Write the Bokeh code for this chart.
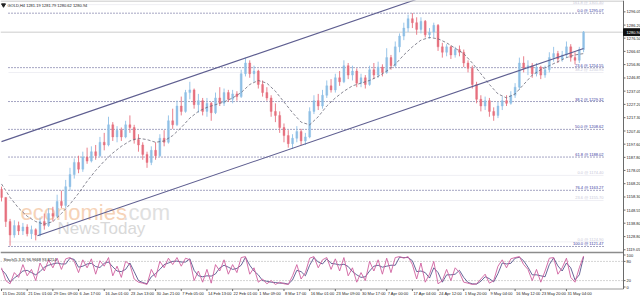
from bokeh.plotting import figure
from bokeh.models import Range1d, ColumnDataSource
from bokeh.embed import file_html
from bokeh.resources import INLINE
from bokeh.core.properties import value

# ---------------- data ----------------
title_text = "GOLD,H4  1281.19 1281.79 1280.62 1280.94"
stoch_title = "Stoch(5,3,3) 96.9668 93.8214"

first_open = 1164.0
closes = [1158, 1140, 1130, 1137, 1133, 1136, 1131, 1134, 1130, 1140,
          1137, 1146, 1144, 1155, 1152, 1166, 1175, 1184, 1179, 1188,
          1185, 1192, 1189, 1199, 1197, 1212, 1203, 1208, 1203, 1212,
          1210, 1201, 1197, 1190, 1184, 1193, 1189, 1202, 1199, 1215,
          1212, 1226, 1222, 1236, 1238, 1227, 1230, 1222, 1228, 1221,
          1232, 1228, 1236, 1231, 1235, 1233, 1250, 1258, 1250, 1252,
          1242, 1236, 1232, 1222, 1219, 1210, 1204, 1198, 1202, 1207,
          1200, 1203, 1222, 1230, 1226, 1234, 1241, 1238, 1247, 1244,
          1256, 1249, 1252, 1243, 1247, 1242, 1253, 1249, 1255, 1251,
          1262, 1256, 1270, 1278, 1284, 1291, 1288, 1283, 1289, 1279,
          1281, 1286, 1270, 1266, 1270, 1264, 1268, 1266, 1258, 1254,
          1242, 1231, 1226, 1230, 1222, 1219, 1226, 1230, 1228, 1234,
          1240, 1258, 1254, 1256, 1250, 1255, 1249, 1253, 1262, 1265,
          1261, 1264, 1270, 1262, 1260, 1268, 1280.94]
highs = [1166, 1158, 1142, 1141, 1140, 1139, 1138, 1137, 1135, 1143,
         1146, 1150, 1151, 1160, 1163, 1171, 1180, 1187, 1189, 1192,
         1195, 1196, 1197, 1203, 1206, 1218, 1214, 1211, 1210, 1215,
         1219, 1212, 1205, 1199, 1192, 1196, 1199, 1205, 1208, 1219,
         1224, 1230, 1233, 1238, 1244, 1239, 1235, 1232, 1232, 1229,
         1236, 1240, 1239, 1238, 1238, 1237, 1253, 1262, 1260, 1256,
         1253, 1245, 1240, 1234, 1228, 1222, 1213, 1208, 1205, 1211,
         1209, 1206, 1225, 1234, 1235, 1238, 1245, 1246, 1250, 1252,
         1260, 1258, 1256, 1254, 1250, 1249, 1256, 1258, 1259, 1257,
         1269, 1264, 1274, 1280, 1288, 1294, 1295.1, 1292, 1292, 1290,
         1284, 1288, 1287, 1273, 1272, 1271, 1270, 1271, 1268, 1260,
         1256, 1244, 1234, 1233, 1232, 1225, 1229, 1233, 1234, 1237,
         1243, 1262, 1263, 1260, 1258, 1258, 1256, 1256, 1266, 1270,
         1267, 1267, 1274, 1272, 1266, 1270, 1281.8]
lows = [1155, 1136, 1122, 1128, 1130, 1130, 1129, 1127, 1126, 1129,
        1134, 1136, 1140, 1143, 1150, 1150, 1163, 1172, 1176, 1177,
        1183, 1184, 1186, 1188, 1193, 1196, 1200, 1199, 1200, 1202,
        1206, 1198, 1192, 1186, 1180, 1182, 1186, 1188, 1196, 1198,
        1209, 1211, 1219, 1221, 1231, 1224, 1221, 1219, 1218, 1215,
        1220, 1226, 1226, 1229, 1228, 1230, 1232, 1248, 1247, 1244,
        1239, 1233, 1230, 1218, 1214, 1206, 1199, 1195, 1194, 1199,
        1197, 1197, 1202, 1220, 1223, 1224, 1232, 1236, 1236, 1241,
        1243, 1246, 1245, 1240, 1240, 1239, 1241, 1246, 1247, 1248,
        1250, 1253, 1255, 1266, 1275, 1281, 1284, 1279, 1280, 1277,
        1276, 1277, 1267, 1262, 1263, 1261, 1262, 1263, 1255, 1251,
        1239, 1228, 1222, 1223, 1218, 1215, 1217, 1223, 1226, 1227,
        1232, 1238, 1251, 1249, 1247, 1248, 1246, 1247, 1251, 1259,
        1258, 1259, 1262, 1259, 1257, 1258, 1266]

ma_bars = list(range(0, 137, 2))
ma_values = [1168, 1158, 1150, 1144, 1140, 1138, 1140, 1146, 1153, 1161,
             1170, 1178, 1185, 1191, 1196, 1200, 1202, 1201, 1199, 1200,
             1204, 1210, 1217, 1222, 1225, 1227, 1229, 1232, 1236, 1242,
             1245, 1243, 1237, 1229, 1221, 1214, 1212, 1218, 1226, 1232,
             1237, 1241, 1243, 1245, 1248, 1252, 1257, 1264, 1270, 1275,
             1277, 1276, 1273, 1269, 1265, 1258, 1250, 1242, 1235, 1232,
             1235, 1242, 1249, 1253, 1256, 1259, 1262, 1264, 1265]

stoch_main = [60, 20, 10, 45, 30, 70, 35, 55, 20, 75, 50, 85, 60, 90, 55, 88, 92, 80, 45, 85,
              60, 88, 40, 82, 65, 92, 35, 65, 30, 80, 70, 25, 15, 12, 8, 55, 30, 80, 60, 90,
              70, 92, 65, 90, 85, 20, 50, 15, 55, 12, 70, 50, 85, 40, 70, 45, 92, 95, 40, 60,
              15, 25, 10, 20, 8, 15, 10, 8, 35, 70, 25, 45, 90, 95, 60, 85, 92, 55, 88, 50,
              92, 35, 60, 15, 45, 20, 80, 50, 85, 40, 90, 45, 92, 95, 90, 95, 70, 25, 75, 15,
              40, 80, 10, 20, 55, 20, 60, 45, 15, 12, 8, 10, 25, 40, 12, 20, 65, 85, 60, 88,
              92, 95, 70, 55, 20, 55, 15, 50, 90, 92, 40, 60, 90, 30, 15, 60, 96.97]
stoch_signal = [55, 40, 15, 28, 38, 50, 52, 45, 38, 48, 62, 68, 72, 75, 72, 72, 90, 86, 62, 65,
                72, 74, 64, 61, 74, 78, 63, 50, 48, 55, 75, 48, 20, 14, 10, 32, 42, 55, 70, 75,
                80, 81, 78, 78, 88, 52, 35, 32, 35, 34, 41, 60, 68, 62, 55, 58, 68, 93, 68, 50,
                38, 20, 18, 15, 14, 12, 12, 9, 22, 52, 48, 35, 68, 92, 78, 72, 88, 74, 72, 69,
                71, 64, 48, 38, 30, 32, 50, 65, 68, 62, 65, 68, 68, 93, 92, 92, 82, 48, 50, 45,
                28, 60, 45, 15, 38, 38, 40, 52, 30, 14, 10, 9, 18, 32, 26, 16, 42, 75, 72, 74,
                90, 93, 82, 62, 38, 38, 35, 32, 70, 91, 66, 50, 75, 60, 22, 38, 93.82]

time_labels = ["15 Dec 2016", "21 Dec 01:00", "29 Dec 09:00", "6 Jan 17:00", "16 Jan 01:00",
               "23 Jan 13:00", "30 Jan 21:00", "7 Feb 05:00", "14 Feb 13:00", "22 Feb 01:00",
               "1 Mar 09:00", "8 Mar 17:00", "16 Mar 01:00", "23 Mar 09:00", "30 Mar 17:00",
               "7 Apr 00:00", "17 Apr 04:00", "24 Apr 12:00", "1 May 20:00", "9 May 04:00",
               "16 May 12:00", "23 May 20:00", "31 May 04:00"]
bars_per_label = 6

price_ticks = [1296.05, 1286.20, 1276.50, 1266.65, 1256.80, 1246.85, 1237.05, 1227.20,
               1217.30, 1207.40, 1197.60, 1187.80, 1178.05, 1168.20, 1158.30, 1148.55,
               1138.80, 1128.80, 1119.05]
stoch_ticks = [100, 80, 20, 0]
stoch_levels = [80, 20]
current_price = 1280.94

fib_levels = [1295.07, 1254.55, 1229.32, 1208.62, 1188.02, 1163.27, 1121.47]
fib_texts = ["0.0 @ 1295.07", "23.6 @ 1254.55", "38.2 @ 1229.32", "50.0 @ 1208.62",
             "61.8 @ 1188.02", "76.4 @ 1163.27", "100.0 @ 1121.47"]
faint_levels = [1301.40, 1250.95, 1174.40, 1155.70, 1124.90]
faint_texts = ["161.8 @ 1301.40", "38.2 @ 1250.95", "0.0 @ 1174.40", "23.6 @ 1155.70", "0.0 @ 1124.90"]

chan_up_bars = [0, 110]
chan_up_prices = [1199.5, 1319.6]
chan_lo_bars = [8.4, 136]
chan_lo_prices = [1129.5, 1268.8]

# ---------------- layout helpers (pixel -> data) ----------------
W, H = 640, 298
BAR_PX, X0 = 4.28, 1.0
P_REF, Y_REF, PPU = 1295.05, 12.7, 1.344
S_ZERO_Y, S_PPU = 286.5, 0.32
AX_X = 623


def bx(px):
    return (px - X0) / BAR_PX


def py(ypx):
    return P_REF - (ypx - Y_REF) / PPU


def sy(ypx):
    return (S_ZERO_Y - ypx) / S_PPU


FONT = value("Liberation Sans")
FS = value("4px")

p = figure(width=W, height=H, x_range=Range1d(bx(0), bx(W)), y_range=Range1d(py(H), py(0)),
           output_backend="svg", toolbar_location=None, x_axis_location=None,
           y_axis_location=None, min_border=0, outline_line_color=None,
           background_fill_color="white", border_fill_color="white")
p.extra_y_ranges = {"stoch": Range1d(sy(H), sy(0))}
p.grid.grid_line_color = None

# watermark
p.text(x=[bx(20)], y=[py(212)], text=["economies"], text_font=FONT, text_font_size=value("22px"),
       text_color="#f6d3b8", text_baseline="alphabetic", text_align="left")
p.text(x=[bx(122)], y=[py(212)], text=[".com"], text_font=FONT, text_font_size=value("22px"),
       text_color="#e0e0e0", text_baseline="alphabetic", text_align="left")
p.text(x=[bx(57)], y=[py(228)], text=["NewsToday"], text_font=FONT, text_font_size=value("17px"),
       text_color="#d9d9d9", text_baseline="alphabetic", text_align="left")

# faint fibonacci set
fx1 = bx(603)
p.segment(x0=[bx(8)] * len(faint_levels), y0=faint_levels, x1=[fx1] * len(faint_levels),
          y1=faint_levels, line_color="#efeff4", line_width=1)
p.text(x=[fx1] * len(faint_levels), y=faint_levels, text=faint_texts, text_font=FONT,
       text_font_size=FS, text_color="#c8c8d8", text_align="right", text_baseline="bottom")

# main fibonacci
p.segment(x0=[bx(8)] * len(fib_levels), y0=fib_levels, x1=[fx1] * len(fib_levels), y1=fib_levels,
          line_color="#4a4a86", line_width=1, line_dash="1 2")
p.text(x=[fx1] * len(fib_levels), y=fib_levels, text=fib_texts, text_font=FONT,
       text_font_size=FS, text_color="#3a3aa0", text_align="right", text_baseline="bottom")

# bid line
p.segment(x0=[bx(0)], y0=[current_price], x1=[bx(AX_X)], y1=[current_price],
          line_color="#cccccc", line_width=1)

# candles
n = len(closes)
bars = list(range(n))
opens = [first_open] + closes[:-1]
UP, DOWN = "#8fc0e6", "#e6707e"
src = ColumnDataSource(dict(
    x=bars, h=highs, l=lows,
    top=[max(o, c) for o, c in zip(opens, closes)],
    bottom=[min(o, c) for o, c in zip(opens, closes)],
    color=[UP if c >= o else DOWN for o, c in zip(opens, closes)]))
p.segment(x0="x", y0="l", x1="x", y1="h", line_color="color", line_width=0.9, source=src)
p.vbar(x="x", width=0.45, top="top", bottom="bottom", fill_color="color", line_color="color",
       line_width=0.4, source=src)

# moving average
p.line(ma_bars, ma_values, line_color="#6a6a78", line_width=0.8, line_dash="3 2")

# channel
p.line(chan_up_bars, chan_up_prices, line_color="#5e5e90", line_width=1.1)
p.line(chan_lo_bars, chan_lo_prices, line_color="#5e5e90", line_width=1.1)

# title
p.scatter(x=[bx(3)], y=[py(4.5)], marker="inverted_triangle", size=4, color="#222222")
p.text(x=[bx(7)], y=[py(4.5)], text=[title_text], text_font=FONT, text_font_size=FS,
       text_color="#222222", text_align="left", text_baseline="middle")

# panel borders
p.segment(x0=[bx(0)], y0=[py(0.5)], x1=[bx(AX_X)], y1=[py(0.5)], line_color="#b8b8b8", line_width=1)
p.segment(x0=[bx(0)], y0=[py(252)], x1=[bx(AX_X)], y1=[py(252)], line_color="#8c8c8c", line_width=1.6)
p.segment(x0=[bx(0)], y0=[py(288.5)], x1=[bx(AX_X)], y1=[py(288.5)], line_color="#9a9a9a", line_width=1)
p.segment(x0=[bx(AX_X)], y0=[py(0)], x1=[bx(AX_X)], y1=[py(288.5)], line_color="#6a6a6a", line_width=1)

# stochastic
p.segment(x0=[bx(0)] * 2, y0=stoch_levels, x1=[bx(AX_X)] * 2, y1=stoch_levels,
          line_color="#a8a8a8", line_width=1, line_dash="1 2", y_range_name="stoch")
p.line(bars, stoch_signal, line_color="#40407e", line_width=0.8, y_range_name="stoch")
p.line(bars, stoch_main, line_color="#d0609f", line_width=0.9, y_range_name="stoch")
p.text(x=[bx(3)], y=[sy(258.5)], text=[stoch_title], text_font=FONT, text_font_size=FS,
       text_color="#222222", text_align="left", text_baseline="middle", y_range_name="stoch")

# right price scale
p.segment(x0=[bx(AX_X)] * len(price_ticks), y0=price_ticks, x1=[bx(AX_X + 2)] * len(price_ticks),
          y1=price_ticks, line_color="#6a6a6a", line_width=1)
p.text(x=[bx(626)] * len(price_ticks), y=price_ticks, text=[f"{v:.2f}" for v in price_ticks],
       text_font=FONT, text_font_size=FS, text_color="#222222", text_align="left",
       text_baseline="middle")
p.quad(left=[bx(AX_X)], right=[bx(W)], top=[current_price + 3.4 / PPU],
       bottom=[current_price - 3.4 / PPU], fill_color="#111111", line_color="#111111")
p.text(x=[bx(626)], y=[current_price], text=[f"{current_price:.2f}"], text_font=FONT,
       text_font_size=FS, text_color="white", text_align="left", text_baseline="middle")

# stochastic scale
p.segment(x0=[bx(AX_X)] * len(stoch_ticks), y0=stoch_ticks, x1=[bx(AX_X + 2)] * len(stoch_ticks),
          y1=stoch_ticks, line_color="#6a6a6a", line_width=1, y_range_name="stoch")
p.text(x=[bx(626)] * len(stoch_ticks), y=stoch_ticks, text=[str(v) for v in stoch_ticks],
       text_font=FONT, text_font_size=FS, text_color="#222222", text_align="left",
       text_baseline="middle", y_range_name="stoch")

# time scale
tick_bars = [i * bars_per_label for i in range(len(time_labels))]
p.segment(x0=tick_bars, y0=[sy(288.5)] * len(tick_bars), x1=tick_bars, y1=[sy(290.5)] * len(tick_bars),
          line_color="#6a6a6a", line_width=1, y_range_name="stoch")
p.text(x=tick_bars, y=[sy(293)] * len(tick_bars), text=time_labels, x_offset=1,
       text_font=FONT, text_font_size=FS, text_color="#222222", text_align="left",
       text_baseline="middle", y_range_name="stoch")

open("out.html", "w").write(file_html(p, INLINE))
